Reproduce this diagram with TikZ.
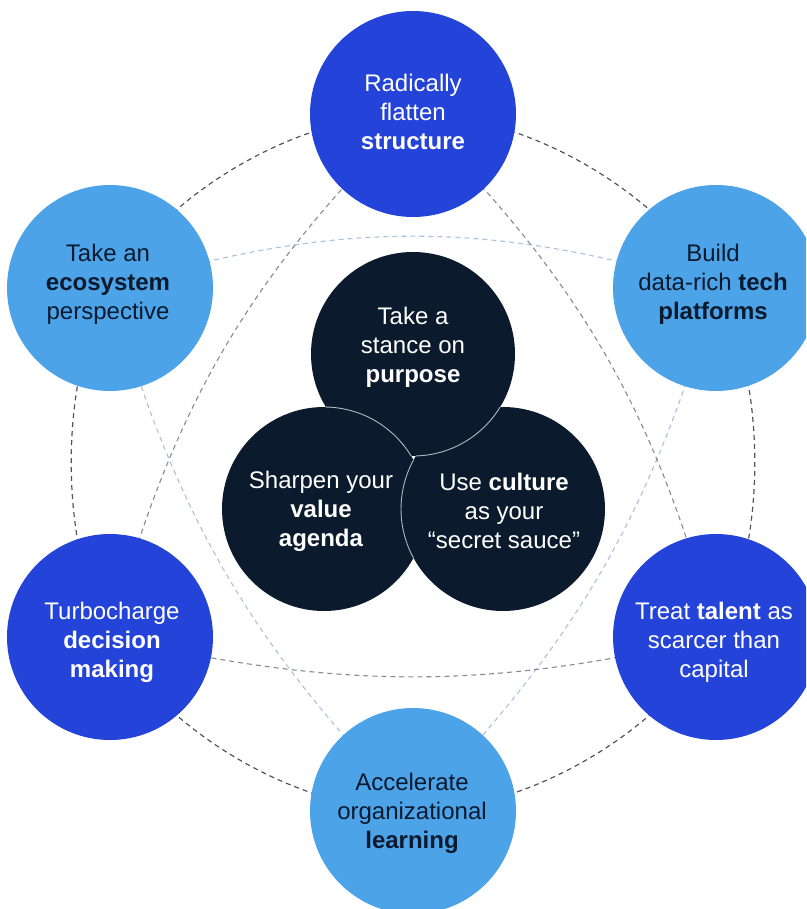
\documentclass[tikz,border=0pt]{standalone}
\usepackage{fontspec}
\setmainfont{Liberation Sans}
\definecolor{dblue}{HTML}{2443D9}
\definecolor{lblue}{HTML}{4DA3E8}
\definecolor{navy}{HTML}{0B1B2D}
\definecolor{ink}{HTML}{0A1A2E}
\definecolor{ringgray}{HTML}{50555C}
\definecolor{trigray}{HTML}{858A92}
\definecolor{triblue}{HTML}{A9C3DC}
\definecolor{vennline}{HTML}{AEB8C4}
\pgfdeclarelayer{background}
\pgfsetlayers{background,main}
\begin{document}
\begin{tikzpicture}[x=1pt,y=-1pt,
  outerc/.style={circle, minimum size=206pt, inner sep=0pt, draw=none},
  innerc/.style={circle, minimum size=204pt, inner sep=0pt, fill=navy, draw=none},
  txt/.style={align=center, inner sep=0pt, font=\fontsize{24}{29}\selectfont},
  ringline/.style={draw=ringgray, line width=1.2pt, dash pattern=on 5pt off 4pt},
  grayline/.style={draw=trigray, line width=1.1pt, dash pattern=on 5pt off 4pt},
  blueline/.style={draw=triblue, line width=1.1pt, dash pattern=on 5pt off 4pt},
  vennarc/.style={draw=vennline, line width=0.9pt}
]
\useasboundingbox (0,0) rectangle (806,909);
\clip (0,0) rectangle (806,909);

% outer circles
\node[outerc, fill=dblue] (top) at (413,114) {};
\node[outerc, fill=lblue] (ur)  at (716,288) {};
\node[outerc, fill=dblue] (lr)  at (716,637) {};
\node[outerc, fill=lblue] (bot) at (413,811) {};
\node[outerc, fill=dblue] (ll)  at (110,637) {};
\node[outerc, fill=lblue] (ul)  at (110,288) {};

% inner circles
\node[innerc] (it) at (413,354) {};
\node[innerc] (il) at (324,509) {};
\node[innerc] (ir) at (503,509) {};

% connectors behind the circles
\begin{pgfonlayer}{background}
  % outer ring
  \draw[ringline] (top.center) to[bend left=30, looseness=0.82] (ur.center);
  \draw[ringline] (ur.center)  to[bend left=30, looseness=0.76] (lr.center);
  \draw[ringline] (lr.center)  to[bend left=30, looseness=0.82] (bot.center);
  \draw[ringline] (bot.center) to[bend left=30, looseness=0.82] (ll.center);
  \draw[ringline] (ll.center)  to[bend left=30, looseness=0.76] (ul.center);
  \draw[ringline] (ul.center)  to[bend left=30, looseness=0.82] (top.center);
  % light blue triangle
  \draw[blueline] (ul.center)  to[bend left=17] (ur.center);
  \draw[blueline] (ur.center)  to[bend left=14] (bot.center);
  \draw[blueline] (bot.center) to[bend left=14] (ul.center);
  % gray triangle
  \draw[grayline] (top.center) to[bend left=15] (lr.center);
  \draw[grayline] (lr.center)  to[bend left=13] (ll.center);
  \draw[grayline] (ll.center)  to[bend left=15] (top.center);
\end{pgfonlayer}

% overlap outlines of the inner circles
\begin{scope}
  \clip (it.center) circle[radius=102pt];
  \draw[vennarc] (il.center) circle[radius=102pt];
\end{scope}
\begin{scope}
  \clip (ir.center) circle[radius=102pt];
  \draw[vennarc] (it.center) circle[radius=102pt];
\end{scope}
\begin{scope}
  \clip (il.center) circle[radius=102pt];
  \draw[vennarc] (ir.center) circle[radius=102pt];
\end{scope}

% texts
\node[txt, text=white] (ttop) at (413,112) {Radically\\flatten\\\textbf{structure}};
\node[txt, text=ink]   (tur)  at (713,284) {Build\\data-rich \textbf{tech}\\\textbf{platforms}};
\node[txt, text=white] (tlr)  at (714,642) {Treat \textbf{talent} as\\scarcer than\\capital};
\node[txt, text=ink]   (tbot) at (412,813) {Accelerate\\organizational\\\textbf{learning}};
\node[txt, text=white] (tll)  at (112,642) {Turbocharge\\\textbf{decision}\\\textbf{making}};
\node[txt, text=ink]   (tul)  at (108,284) {Take an\\\textbf{ecosystem}\\perspective};
\node[txt, text=white] (tit)  at (413,347) {Take a\\stance on\\\textbf{purpose}};
\node[txt, text=white] (til)  at (321,511) {Sharpen your\\\textbf{value}\\\textbf{agenda}};
\node[txt, text=white] (tir)  at (504,511) {Use \textbf{culture}\\as your\\“secret sauce”};
\end{tikzpicture}
\end{document}
